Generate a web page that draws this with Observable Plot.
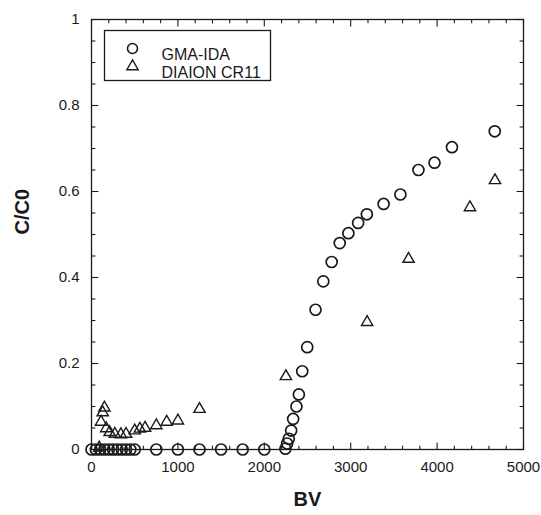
<!DOCTYPE html>
<html>
<head>
<meta charset="utf-8">
<script src="https://cdn.jsdelivr.net/npm/d3@7"></script>
<script src="https://cdn.jsdelivr.net/npm/@observablehq/plot@0.6"></script>
<style>
  html, body { margin: 0; padding: 0; background: #fff; }
</style>
</head>
<body>
<div id="chart"></div>
<script>
// GMA-IDA (circles)
const gmaBV = [0, 50, 100, 150, 200, 250, 300, 350, 400, 450, 500,
  750, 1000, 1250, 1500, 1750, 2000,
  2244, 2264, 2283, 2311, 2334, 2372, 2400,
  2439, 2497, 2593, 2683, 2780, 2873, 2973, 3086, 3187, 3381, 3575, 3784, 3970, 4172, 4667];
const gmaC = [0, 0, 0, 0, 0, 0, 0, 0, 0, 0, 0,
  0, 0, 0, 0, 0, 0,
  0.002, 0.014, 0.025, 0.044, 0.071, 0.100, 0.128,
  0.182, 0.238, 0.325, 0.391, 0.436, 0.480, 0.503, 0.527, 0.547, 0.571, 0.593, 0.650, 0.667, 0.703, 0.740];

// DIAION CR11 (triangles)
const diaionBV = [90, 110, 130, 150, 170, 210, 270, 340, 400, 500, 560, 620, 750, 870, 1000, 1250, 2250, 3190, 3670, 4380, 4670];
const diaionC = [0.004, 0.064, 0.086, 0.097, 0.049, 0.040, 0.036, 0.035, 0.036, 0.044, 0.048, 0.050, 0.056, 0.064, 0.067, 0.094, 0.170, 0.296, 0.443, 0.563, 0.626];

const legendLabels = ["GMA-IDA", "DIAION CR11"];
const xTickValues = [0, 1000, 2000, 3000, 4000, 5000];
const yTickValues = [0, 0.2, 0.4, 0.6, 0.8, 1];
const xMinorTicks = [200, 400, 600, 800, 1200, 1400, 1600, 1800, 2200, 2400, 2600, 2800, 3200, 3400, 3600, 3800, 4200, 4400, 4600, 4800];
const yMinorTicks = [0.05, 0.1, 0.15, 0.25, 0.3, 0.35, 0.45, 0.5, 0.55, 0.65, 0.7, 0.75, 0.85, 0.9, 0.95];

const gma = gmaBV.map((x, i) => ({x, y: gmaC[i]}));
const diaion = diaionBV.map((x, i) => ({x, y: diaionC[i]}));

const ink = "#1a1a1a";
const font = "'Liberation Sans', Arial, Helvetica, sans-serif";

// inward tick segments; lengths in data units (major ~7px, minor ~4px)
const xTicksMajor = xTickValues.map(v => ({v, a: 0, b: 0.016, c: 1, d: 0.984}));
const xTicksMinor = xMinorTicks.map(v => ({v, a: 0, b: 0.009, c: 1, d: 0.991}));
const yTicksMajor = yTickValues.map(v => ({v, a: 0, b: 80, c: 5000, d: 4920}));
const yTicksMinor = yMinorTicks.map(v => ({v, a: 0, b: 45, c: 5000, d: 4955}));

const tickStyle = {stroke: ink, strokeWidth: 1.1};

const chart = Plot.plot({
  width: 541,
  height: 515,
  marginLeft: 91,
  marginRight: 18,
  marginTop: 19,
  marginBottom: 66,
  x: {domain: [0, 5000]},
  y: {domain: [0, 1]},
  style: {fontFamily: font, fontSize: "15px", color: ink, background: "#fff", overflow: "visible"},
  marks: [
    Plot.axisX({anchor: "bottom", ticks: xTickValues, tickSize: 0, tickPadding: 12, tickFormat: "d", label: null, fill: ink, fontSize: 15}),
    Plot.axisY({anchor: "left", ticks: yTickValues, tickSize: 0, tickPadding: 12, tickFormat: d3.format("~g"), label: null, fill: ink, fontSize: 15}),
    Plot.link(xTicksMajor, {x1: "v", x2: "v", y1: "a", y2: "b", ...tickStyle}),
    Plot.link(xTicksMinor, {x1: "v", x2: "v", y1: "a", y2: "b", ...tickStyle}),
    Plot.link(xTicksMajor, {x1: "v", x2: "v", y1: "c", y2: "d", ...tickStyle}),
    Plot.link(xTicksMinor, {x1: "v", x2: "v", y1: "c", y2: "d", ...tickStyle}),
    Plot.link(yTicksMajor, {y1: "v", y2: "v", x1: "a", x2: "b", ...tickStyle}),
    Plot.link(yTicksMinor, {y1: "v", y2: "v", x1: "a", x2: "b", ...tickStyle}),
    Plot.link(yTicksMajor, {y1: "v", y2: "v", x1: "c", x2: "d", ...tickStyle}),
    Plot.link(yTicksMinor, {y1: "v", y2: "v", x1: "c", x2: "d", ...tickStyle}),
    Plot.frame({stroke: ink, strokeWidth: 1.3}),

    Plot.dot(gma, {x: "x", y: "y", r: 5.5, symbol: "circle", stroke: ink, strokeWidth: 1.7, fill: "none"}),
    Plot.dot(diaion, {x: "x", y: "y", r: 4.2, symbol: "triangle", stroke: ink, strokeWidth: 1.4, fill: "none"}),

    Plot.frame({stroke: ink, strokeWidth: 1.3, insetLeft: 13, insetTop: 11, insetRight: 253, insetBottom: 369}),
    Plot.dot([legendLabels[0]], {frameAnchor: "top-left", dx: 41, dy: 29, r: 5, symbol: "circle", stroke: ink, strokeWidth: 1.6, fill: "none"}),
    Plot.dot([legendLabels[1]], {frameAnchor: "top-left", dx: 41, dy: 47, r: 4.2, symbol: "triangle", stroke: ink, strokeWidth: 1.4, fill: "none"}),
    Plot.text([legendLabels[0]], {text: d => d, frameAnchor: "top-left", dx: 70, dy: 29, textAnchor: "start", fontSize: 16, fill: ink}),
    Plot.text([legendLabels[1]], {text: d => d, frameAnchor: "top-left", dx: 70, dy: 47, textAnchor: "start", fontSize: 16, fill: ink}),

    Plot.text(["C/C0"], {text: d => d, frameAnchor: "left", dx: -69, rotate: -90, fontSize: 20, fontWeight: "bold", fill: ink}),
    Plot.text(["BV"], {text: d => d, frameAnchor: "bottom", dy: 56, fontSize: 20, fontWeight: "bold", fill: ink})
  ]
});

document.getElementById("chart").appendChild(chart);
</script>
</body>
</html>
